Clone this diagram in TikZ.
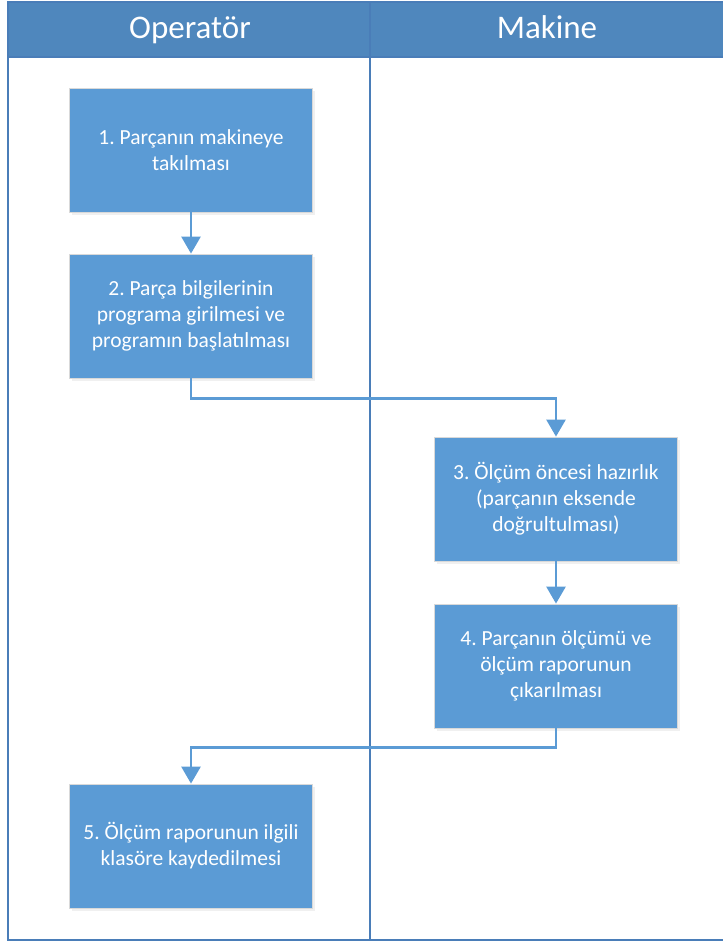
\documentclass[tikz,border=0pt]{standalone}
\usepackage{fontspec}
\setmainfont{Carlito}
\usetikzlibrary{arrows.meta,shadows}
\definecolor{boxblue}{HTML}{5B9BD5}
\definecolor{headblue}{HTML}{4F87BD}
\definecolor{laneblue}{HTML}{4A7DB8}
\tikzset{
    stepbox/.style={rectangle, fill=boxblue, draw=black!15, line width=0.8pt,
        minimum width=243, minimum height=124, align=center,
        text=white, font=\fontsize{21.5}{26}\selectfont,
        drop shadow={opacity=0.12, shadow xshift=2pt, shadow yshift=-3pt}},
    flow/.style={draw=boxblue, line width=2.6pt,
        -{Triangle[width=19pt,length=17pt]}},
    lanetitle/.style={text=white, font=\fontsize{33}{36}\selectfont,
        text height=23pt, text depth=7pt}
}
\begin{document}
\frenchspacing
\begin{tikzpicture}[x=1pt, y=-1pt]
    \useasboundingbox (0,0) rectangle (723,943);

    % lanes
    \fill[headblue] (8,2) rectangle (724,57);
    \draw[laneblue, line width=2pt] (8,2) rectangle (726,940);
    \draw[laneblue, line width=2pt] (8,57) -- (724,57);
    \draw[laneblue, line width=2pt] (370,2) -- (370,940);
    \node[lanetitle] (op) at (190,30) {Operatör};
    \node[lanetitle] (mk) at (547,30) {Makine};

    % steps
    \node[stepbox] (s1) at (191,150) {1. Parçanın makineye\\takılması};
    \node[stepbox] (s2) at (191,316) {2. Parça bilgilerinin\\programa girilmesi ve\\programın başlatılması};
    \node[stepbox] (s3) at (556,499) {3. Ölçüm öncesi hazırlık\\(parçanın eksende\\doğrultulması)};
    \node[stepbox] (s4) at (556,666) {4. Parçanın ölçümü ve\\ölçüm raporunun\\çıkarılması};
    \node[stepbox] (s5) at (191,846) {5. Ölçüm raporunun ilgili\\klasöre kaydedilmesi};

    % arrows
    \draw[flow] (s1) -- (s2);
    \draw[flow] (s2.south) -- ++(0,20) -| (s3.north);
    \draw[flow] (s3) -- (s4);
    \draw[flow] (s4.south) -- ++(0,19) -| (s5.north);
\end{tikzpicture}
\end{document}
